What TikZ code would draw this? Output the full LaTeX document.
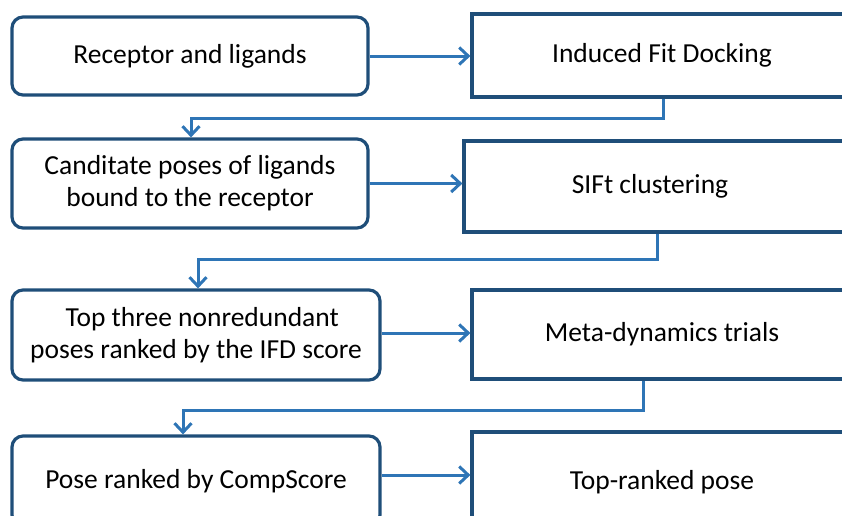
\documentclass[tikz,border=0pt]{standalone}
\usepackage{fontspec}
\setmainfont{Carlito}
\usetikzlibrary{arrows.meta}
\definecolor{boxblue}{RGB}{31,78,121}
\definecolor{linkblue}{RGB}{46,117,182}
\tikzset{
  stage/.style={draw=boxblue, line width=3.2pt, fill=white, rounded corners=11pt,
    align=center, font=\fontsize{27.5}{32}\selectfont, inner sep=0pt},
  result/.style={draw=boxblue, line width=3.2pt, fill=white,
    align=center, font=\fontsize{27.5}{32}\selectfont, inner sep=0pt},
  link/.style={draw=linkblue, line width=3pt,
    -{Straight Barb[length=9pt,width=17pt]}},
}
\begin{document}
\begin{tikzpicture}[x=1pt,y=-1pt]
\useasboundingbox (0,0) rectangle (842,515);
\clip (0,0) rectangle (842,515);

% left column: inputs and intermediate results
\node[stage, minimum width=356pt, minimum height=78pt] (rec) at (190,56) {Receptor and ligands};
\node[stage, minimum width=356pt, minimum height=89pt] (cand) at (190,183.5) {Canditate poses of ligands\\bound to the receptor};
\node[stage, minimum width=368pt, minimum height=90pt] (top3) at (196,335) {\ \ Top three nonredundant\\poses ranked by the IFD score};
\node[stage, minimum width=368pt, minimum height=90pt] (comp) at (196,481) {Pose ranked by CompScore};

% right column: processing steps
\node[result, minimum width=380pt, minimum height=83pt] (ifd) at (662,55.5) {Induced Fit Docking};
\node[result, minimum width=396pt, minimum height=91pt] (sift) at (662,186.5) {SIFt clustering\hspace*{24pt}};
\node[result, minimum width=380pt, minimum height=89pt] (meta) at (662,334.5) {Meta-dynamics trials};
\node[result, minimum width=380pt, minimum height=100pt] (best) at (662,482) {Top-ranked pose};

% horizontal links
\draw[link] (rec.east) -- (rec.east -| ifd.west);
\draw[link] (cand.east) -- (cand.east -| sift.west);
\draw[link] (top3.east |- 0,333) -- (meta.west |- 0,333);
\draw[link] (comp.east |- 0,475) -- (best.west |- 0,475);

% return links to the next row
\coordinate (r1) at (663,118);
\coordinate (l1) at (191,118);
\draw[link] (ifd.south -| r1) -- (r1) -- (l1) -- (l1 |- cand.north);
\coordinate (r2) at (657,259);
\coordinate (l2) at (198,259);
\draw[link] (sift.south -| r2) -- (r2) -- (l2) -- (l2 |- top3.north);
\coordinate (r3) at (643,410);
\coordinate (l3) at (183,410);
\draw[link] (meta.south -| r3) -- (r3) -- (l3) -- (l3 |- comp.north);
\end{tikzpicture}
\end{document}
